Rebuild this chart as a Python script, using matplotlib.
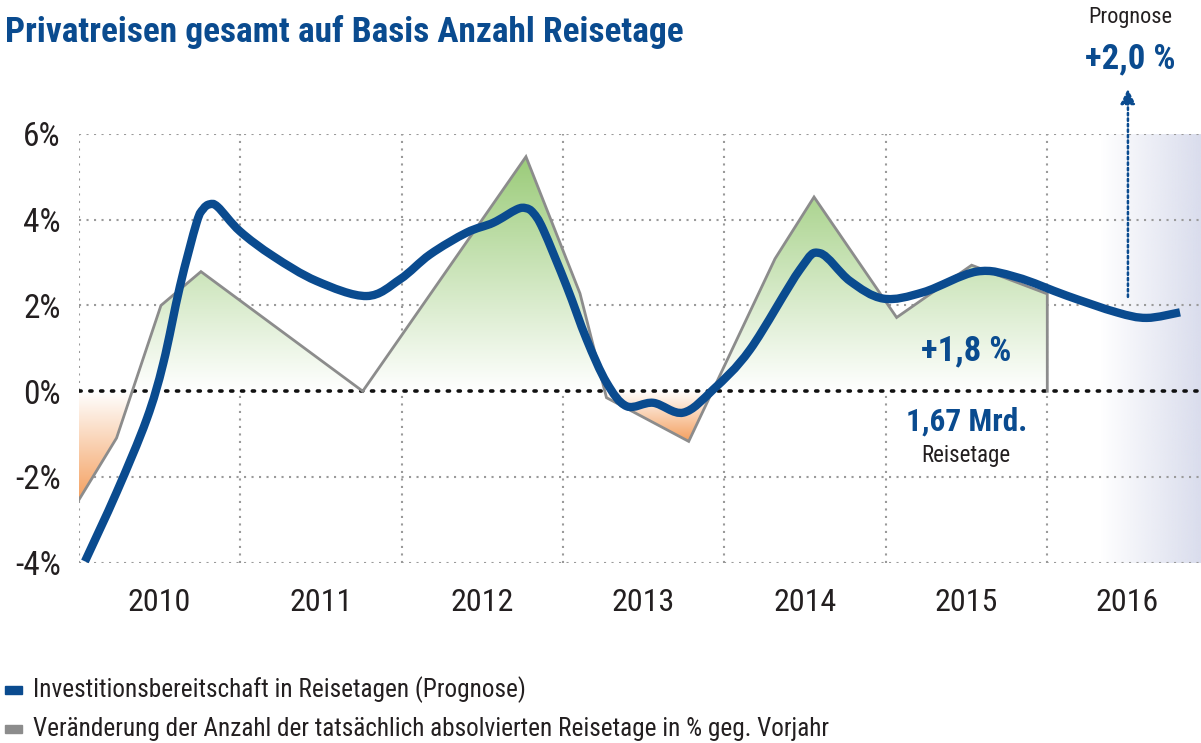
import numpy as np
import matplotlib.pyplot as plt
from matplotlib.path import Path
from matplotlib.patches import Rectangle, PathPatch
from matplotlib.colors import to_rgb

plt.rcParams['font.family'] = ['Roboto Condensed', 'Archivo Narrow', 'DejaVu Sans']

# Daten
years = [2010, 2011, 2012, 2013, 2014, 2015, 2016]
yticks = [-4, -2, 0, 2, 4, 6]
ylabels = ["-4%", "-2%", "0%", "2%", "4%", "6%"]

# Veränderung der tatsächlichen Reisetage (grau)
ist_t = [2010.0, 2010.233, 2010.508, 2010.756, 2011.759, 2012.771, 2013.106, 2013.27,
         2013.78, 2014.315, 2014.557, 2015.069, 2015.534, 2016.003, 2016.003]
ist_v = [-2.53, -1.09, 2.0, 2.79, 0.0, 5.47, 2.28, -0.15,
         -1.17, 3.09, 4.53, 1.72, 2.94, 2.27, 0.0]

# Investitionsbereitschaft (blau)
inv_t = [2010.037, 2010.233, 2010.419, 2010.523, 2010.626, 2010.729, 2010.77, 2010.81, 2010.86,
         2010.998, 2011.204, 2011.473, 2011.783, 2011.99, 2012.176, 2012.403, 2012.568,
         2012.713, 2012.77, 2012.816, 2012.878, 2013.023, 2013.147, 2013.271, 2013.395,
         2013.56, 2013.746, 2013.932, 2014.16, 2014.47, 2014.594, 2014.78, 2014.987,
         2015.235, 2015.565, 2015.813, 2016.123, 2016.433, 2016.619, 2016.826]
inv_v = [-3.97, -2.36, -0.66, 0.66, 2.45, 3.93, 4.25, 4.36, 4.30,
         3.73, 3.15, 2.57, 2.22, 2.61, 3.19, 3.70, 3.93,
         4.24, 4.27, 4.16, 3.77, 2.45, 1.21, 0.2, -0.35,
         -0.27, -0.5, 0.04, 0.97, 2.84, 3.22, 2.57, 2.16,
         2.31, 2.79, 2.66, 2.23, 1.84, 1.71, 1.84]

blau = "#0a4b8f"
grau = "#8c8c8c"
text_col = "#231f20"

#Glatte Linie (Catmull-Rom als Bezier) durch die Punkte
def smooth_path(xs, ys):
    P = np.column_stack([xs, ys])
    n = len(P)
    verts = [P[0]]
    codes = [Path.MOVETO]
    for i in range(n-1):
        p0 = P[max(i-1, 0)]
        p1 = P[i]
        p2 = P[i+1]
        p3 = P[min(i+2, n-1)]
        verts += [p1 + (p2-p0)/6, p2 - (p3-p1)/6, p2]
        codes += [Path.CURVE4]*3
    return Path(verts, codes)

fig = plt.figure(figsize=(12.01, 7.43), dpi=100)
W, H = 1201, 743
ax = fig.add_axes([79/W, (H-562.7)/H, (W-79)/W, (562.7-134)/H])
xmax = 2010 + (W-79)/161.3
ax.set_xlim(2010, xmax)
ax.set_ylim(-4, 6)
for s in ax.spines.values():
    s.set_visible(False)

# Gitter
for y in [-4, -2, 2, 4, 6]:
    ax.axhline(y, color="#9a9a9a", lw=1.5, ls=(0, (1, 2.6)), zorder=1)
for x in years:
    ax.axvline(x, color="#9a9a9a", lw=1.5, ls=(0, (1, 2.6)), zorder=1)

# Prognosebereich
shade = np.ones((2, 256, 4))
shade[..., :3] = to_rgb("#dadded")
shade[..., 3] = np.linspace(0, 1, 256)
ax.imshow(shade, extent=(2016.33, xmax, -4, 6), aspect='auto', zorder=0.5, origin='lower')

x = np.array(ist_t)
y = np.array(ist_v)

# Flächen mit Farbverlauf
pos = ax.fill_between(x, y, 0, where=y >= 0, interpolate=True, color='none')
grad = np.ones((256, 2, 4))
grad[..., :3] = np.linspace(np.array([1, 1, 1]), np.array(to_rgb("#9acb78")), 256)[:, None, :]
gpath = Path.make_compound_path(*pos.get_paths())
im = ax.imshow(grad, extent=(2010, xmax, 0, 5.5), aspect='auto', origin='lower', zorder=2)
im.set_clip_path(gpath, transform=ax.transData)

neg = ax.fill_between(x, y, 0, where=y <= 0, interpolate=True, color='none')
for p in neg.get_paths():
    bb = p.get_extents()
    if bb.height < 0.05:
        continue
    og = np.ones((256, 2, 4))
    og[..., :3] = np.linspace(np.array(to_rgb("#f4a060")), np.array([1, 1, 1]), 256)[:, None, :]
    im2 = ax.imshow(og, extent=(bb.x0, bb.x1, bb.y0, 0), aspect='auto', origin='lower', zorder=2)
    im2.set_clip_path(p, transform=ax.transData)

ax.set_xlim(2010, xmax)
ax.set_ylim(-4, 6)

ax.axhline(0, color="#111111", lw=2.6, ls=(0, (0.6, 2.4)), dash_capstyle='round', zorder=3)
ax.plot(x, y, color=grau, lw=2, zorder=4, solid_joinstyle='miter')
ax.add_patch(PathPatch(smooth_path(inv_t, inv_v), fill=False, edgecolor=blau, lw=6,
                       zorder=5, capstyle='butt', joinstyle='round', clip_on=False))

# Achsenbeschriftung
ax.set_xticks([yr + 0.5 for yr in years])
ax.set_xticklabels([str(yr) for yr in years], fontsize=23, color=text_col)
ax.set_yticks(yticks)
ax.set_yticklabels(ylabels, fontsize=24, color=text_col)
ax.tick_params(length=0)
ax.tick_params(axis='x', pad=18)
ax.tick_params(axis='y', pad=13)

# Anmerkungen
ax.text(2015.5, 0.93, "+1,8 %", color=blau, fontsize=25, fontweight='bold', ha='center', va='center', zorder=6)
ax.text(2015.5, -0.71, "1,67 Mrd.", color=blau, fontsize=22.5, fontweight='bold', ha='center', va='center', zorder=6)
ax.text(2015.5, -1.5, "Reisetage", color=text_col, fontsize=16.5, ha='center', va='center', zorder=6)

ax.annotate("", xy=(2016.503, 7.05), xytext=(2016.503, 2.2), annotation_clip=False,
            arrowprops=dict(arrowstyle='-|>', color=blau, lw=1.8, ls=(0, (1, 1.2)),
                            mutation_scale=22, shrinkA=0, shrinkB=0))
fig.text(1130/W, 1-18/H, "Prognose", color=text_col, fontsize=16, ha='center', va='center')
fig.text(1130/W, 1-59/H, "+2,0 %", color=blau, fontsize=25, fontweight='bold', ha='center', va='center')

fig.text(5/W, 1-32/H, "Privatreisen gesamt auf Basis Anzahl Reisetage", color=blau,
         fontsize=25.5, fontweight='bold', ha='left', va='center')

# Legende
fig.patches.append(Rectangle((5/W, 1-694/H), 17/W, 8/H, transform=fig.transFigure, color=blau))
fig.patches.append(Rectangle((5/W, 1-733/H), 17/W, 8/H, transform=fig.transFigure, color=grau))
fig.text(33/W, 1-690/H, "Investitionsbereitschaft in Reisetagen (Prognose)", color=text_col,
         fontsize=18.2, ha='left', va='center')
fig.text(33/W, 1-729/H, "Veränderung der Anzahl der tatsächlich absolvierten Reisetage in % geg. Vorjahr",
         color=text_col, fontsize=18.2, ha='left', va='center')

fig.savefig("out.png", dpi=100)
